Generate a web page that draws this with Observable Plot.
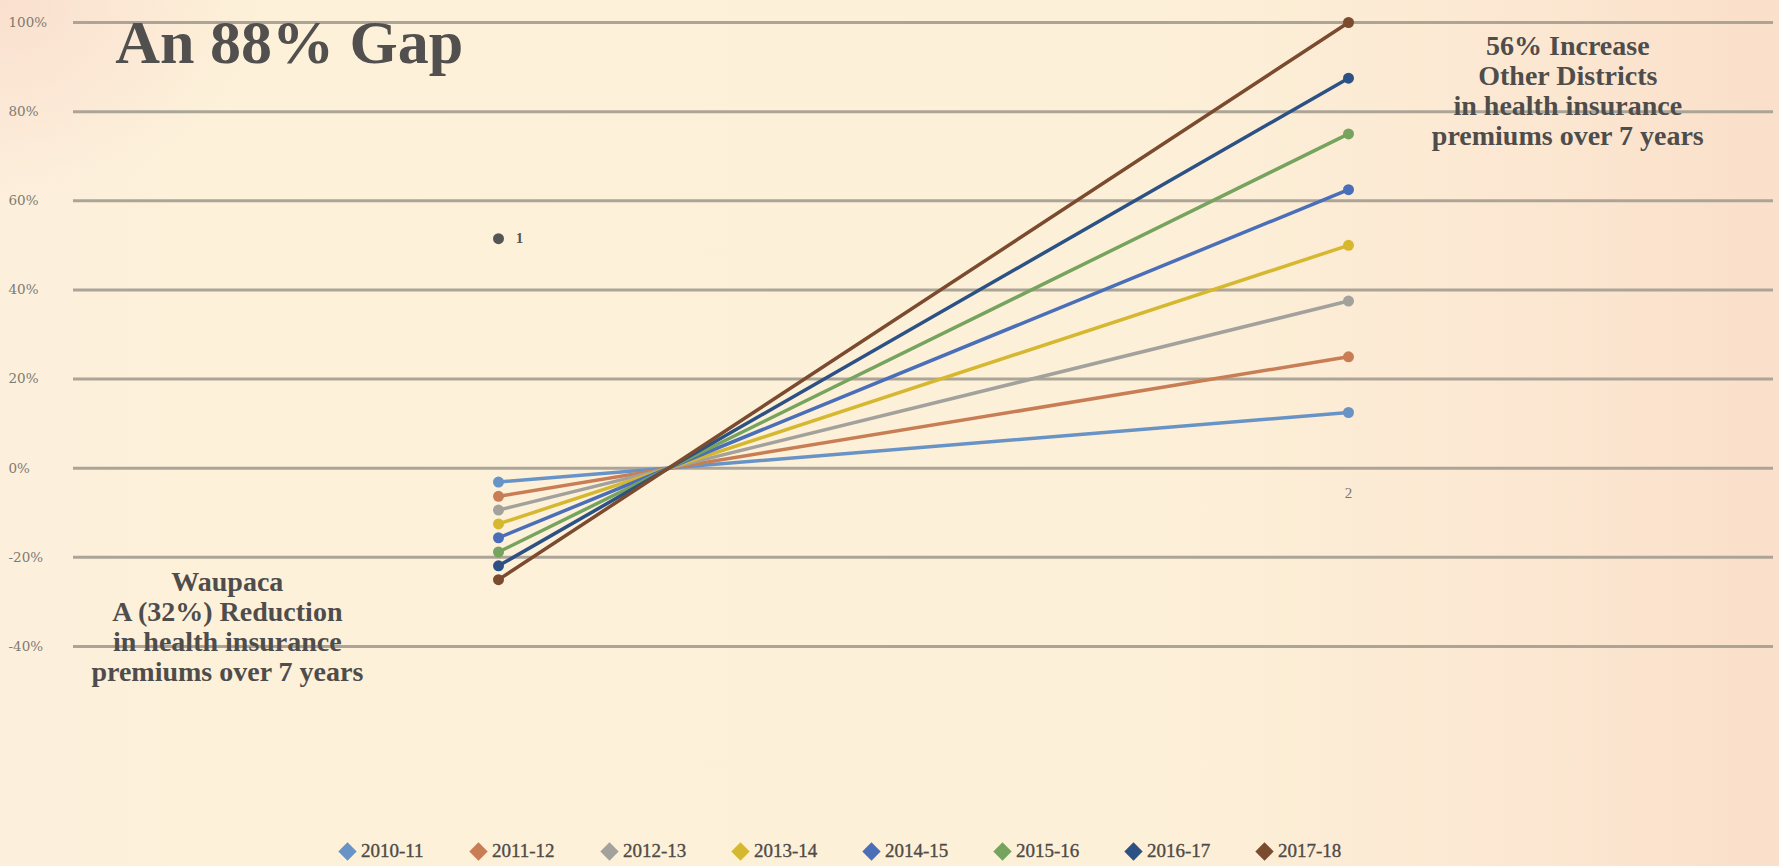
<!DOCTYPE html>
<html>
<head>
<meta charset="utf-8">
<script src="https://cdn.jsdelivr.net/npm/d3@7"></script>
<script src="https://cdn.jsdelivr.net/npm/@observablehq/plot@0.6"></script>
<style>
  html, body { margin: 0; padding: 0; }
  body {
    width: 1779px; height: 866px; overflow: hidden;
    background:
      radial-gradient(ellipse 260px 200px at 0px 0px, rgba(250,222,205,0.9), rgba(250,222,205,0)),
      linear-gradient(90deg, #fcefdc 0%, #fdf1da 10%, #fdf0d8 65%, #fce8d2 85%, #fadfca 100%);
    font-family: "Liberation Serif", serif;
  }
  #legend {
    height: 30px; display: flex; align-items: center;
    padding-left: 338px; box-sizing: border-box;
  }
  .item { width: 131px; display: flex; align-items: center; }
  .sw { width: 13px; height: 13px; transform: rotate(45deg); margin: 0 7px 0 3px; flex: none; }
  .lab { font-size: 19px; color: #4e4a46; -webkit-text-stroke: 0.35px #4e4a46; }
</style>
</head>
<body>
<div id="chart"></div>
<div id="legend"></div>
<script>
// ---- data ----
const seasons = ["2010-11","2011-12","2012-13","2013-14","2014-15","2015-16","2016-17","2017-18"];
const seasonColors = ["#6893c6","#c97d55","#a3a19c","#d6b830","#4a6fb8","#76a35e","#2c5285","#7b4b2f"];
const startValues = [-3.1, -6.3, -9.4, -12.5, -15.6, -18.8, -21.9, -25.0];   // category 1
const endValues = [12.5, 25, 37.5, 50, 62.5, 75, 87.5, 100];                  // category 2
const categories = [1, 2];
const yTicks = [-40, -20, 0, 20, 40, 60, 80, 100];
const strayPoint = [{x: 1, y: 51.5, label: "1"}];
const categoryTag = [{x: 2, y: -5.5, label: "2"}];
const titleText = [{x: 0.549, y: 91, text: "An 88% Gap"}];
const notes = [
  {x: 2.258, y: 84.8, text: "56% Increase\nOther Districts\nin health insurance\npremiums over 7 years"},
  {x: 0.681, y: -35.6, text: "Waupaca\nA (32%) Reduction\nin health insurance\npremiums over 7 years"}
];

// ---- build rows ----
const rows = seasons.flatMap((s, i) => [
  {season: s, x: categories[0], y: startValues[i]},
  {season: s, x: categories[1], y: endValues[i]}
]);

const seriesMarks = seasons.flatMap(s => {
  const d = rows.filter(r => r.season === s);
  return [
    Plot.line(d, {x: "x", y: "y", stroke: "season", strokeWidth: 3.5}),
    Plot.dot(d, {x: "x", y: "y", fill: "season", r: 5.5})
  ];
});

const chart = Plot.plot({
  width: 1779,
  height: 836,
  marginLeft: 73,
  marginRight: 6,
  marginTop: 22,
  marginBottom: 190,
  style: {background: "transparent", fontFamily: "Liberation Serif, serif"},
  x: {domain: [0.5, 2.5], axis: null},
  y: {domain: [-40, 100], axis: null},
  color: {domain: seasons, range: seasonColors},
  marks: [
    Plot.gridY(yTicks, {stroke: "#aba497", strokeWidth: 3, strokeOpacity: 1}),
    Plot.axisY(yTicks, {tickSize: 0, tickFormat: d => `${d}%`, textAnchor: "start", dx: -56,
      fontSize: 13.5, fill: "#807a73", label: null, fontFamily: "DejaVu Serif"}),
    Plot.text(titleText, {x: "x", y: "y", text: "text", textAnchor: "start", lineAnchor: "bottom",
      fontSize: 62, fontWeight: "bold", fill: "#52504e", fontFamily: "Liberation Serif"}),
    Plot.text(notes, {x: "x", y: "y", text: "text", textAnchor: "middle", lineAnchor: "middle",
      fontSize: 28, lineHeight: 30 / 28, fontWeight: "bold", fill: "#4f4d4b", fontFamily: "Liberation Serif"}),
    ...seriesMarks,
    Plot.dot(strayPoint, {x: "x", y: "y", fill: "#555558", r: 5.5}),
    Plot.text(strayPoint, {x: "x", y: "y", text: "label", dx: 21, fontSize: 15, fontWeight: "bold", fill: "#555"}),
    Plot.text(categoryTag, {x: "x", y: "y", text: "label", fontSize: 15, fill: "#777"})
  ]
});
document.getElementById("chart").appendChild(chart);

// ---- legend ----
const legend = document.getElementById("legend");
seasons.forEach((s, i) => {
  const item = document.createElement("div");
  item.className = "item";
  const sw = document.createElement("span");
  sw.className = "sw";
  sw.style.background = seasonColors[i];
  const lab = document.createElement("span");
  lab.className = "lab";
  lab.textContent = s;
  item.append(sw, lab);
  legend.appendChild(item);
});
</script>
</body>
</html>
